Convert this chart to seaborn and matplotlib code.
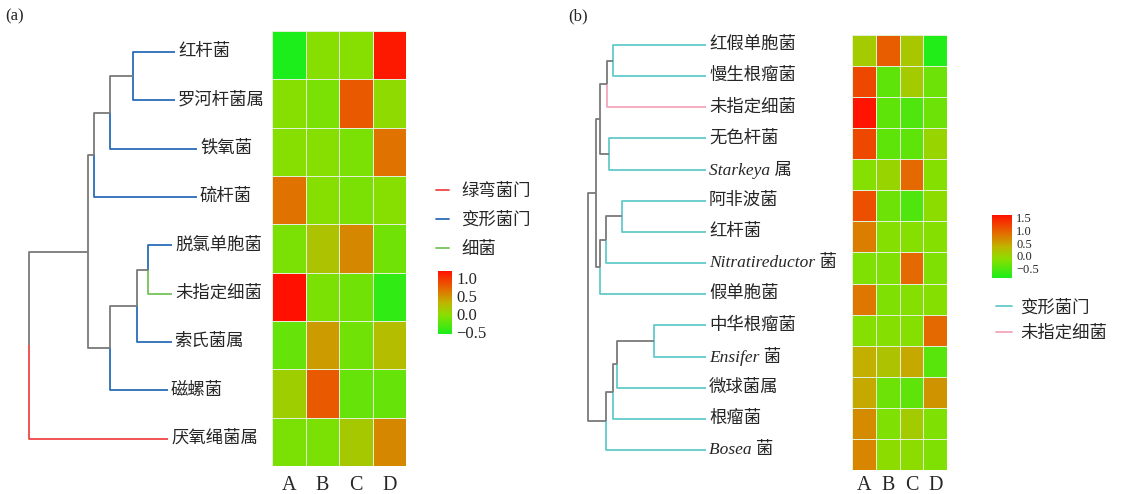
import numpy as np
import pandas as pd
import matplotlib
matplotlib.use("Agg")
import matplotlib.pyplot as plt
from matplotlib.colors import LinearSegmentedColormap
from matplotlib.lines import Line2D
import seaborn as sns

# ---------------- data: panel (a) ----------------
cols = ["A", "B", "C", "D"]
rows_a = ["红杆菌", "罗河杆菌属", "铁氧菌", "硫杆菌", "脱氯单胞菌",
          "未指定细菌", "索氏菌属", "磁螺菌", "厌氧绳菌属"]
vals_a = [[-0.55, -0.05, -0.05, 1.15],
          [-0.05, -0.10, 0.80, 0.00],
          [-0.05, -0.05, -0.10, 0.65],
          [0.65, -0.05, -0.10, -0.05],
          [-0.10, 0.20, 0.55, -0.15],
          [1.20, -0.10, -0.15, -0.45],
          [-0.20, 0.45, -0.15, 0.25],
          [0.10, 0.80, -0.20, -0.20],
          [-0.10, -0.10, 0.15, 0.55]]
group_a = ["变形菌门", "变形菌门", "变形菌门", "变形菌门", "变形菌门",
           "细菌", "变形菌门", "变形菌门", "绿弯菌门"]
tips_a = [22, 22, 0, 0, 25, 25, 25, 29, 29]
# (child, child, height) like a linkage table
merges_a = [(0, 1, 64), (9, 2, 87), (10, 3, 103), (4, 5, 49), (12, 6, 60),
            (13, 7, 87), (11, 14, 109), (15, 8, 168)]
legend_a = ["绿弯菌门", "变形菌门", "细菌"]

# ---------------- data: panel (b) ----------------
rows_b = ["红假单胞菌", "慢生根瘤菌", "未指定细菌", "无色杆菌", "Starkeya 属",
          "阿非波菌", "红杆菌", "Nitratireductor 菌", "假单胞菌", "中华根瘤菌",
          "Ensifer 菌", "微球菌属", "根瘤菌", "Bosea 菌"]
italic_b = [False, False, False, False, True, False, False, True, False,
            False, True, False, False, True]
vals_b = [[0.10, 1.00, 0.15, -0.80],
          [1.15, -0.40, 0.10, -0.30],
          [1.55, -0.40, -0.50, -0.30],
          [1.15, -0.40, -0.40, 0.00],
          [-0.15, 0.00, 0.90, -0.15],
          [1.10, -0.30, -0.50, -0.10],
          [0.75, -0.15, -0.15, -0.15],
          [-0.20, -0.20, 0.90, -0.20],
          [0.80, -0.20, -0.15, -0.15],
          [-0.15, -0.15, -0.15, 0.90],
          [0.40, 0.20, 0.45, -0.45],
          [0.45, -0.30, -0.40, 0.60],
          [0.65, -0.20, 0.10, -0.20],
          [0.70, -0.10, -0.10, -0.20]]
group_b = ["变形菌门"] * 14
group_b[2] = "未指定细菌"
tips_b = [0] * 14
merges_b = [(0, 1, 93), (14, 2, 99), (3, 4, 97), (15, 16, 106), (5, 6, 84),
            (18, 7, 100), (19, 8, 106), (17, 20, 110), (9, 10, 52), (22, 11, 89),
            (23, 12, 93), (24, 13, 100), (21, 25, 118)]
legend_b = ["变形菌门", "未指定细菌"]

colors_a = {"绿弯菌门": "#ef4646", "变形菌门": "#2a6db8", "细菌": "#74c35a"}
colors_b = {"变形菌门": "#62caca", "未指定细菌": "#f2a6ba"}
gray = "#7a7a7a"

cmap = LinearSegmentedColormap.from_list(
    "gr", [(0, "#1aee1a"), (0.3, "#8ade00"), (0.5, "#c0b400"),
           (0.7, "#e27000"), (1.0, "#ff1000")])

sns.set_style("white")
plt.rcParams["font.family"] = ["Liberation Serif", "Noto Sans CJK SC"]

W, H = 1122, 494
fig = plt.figure(figsize=(W / 100, H / 100), dpi=100)


def box(x0, y0, x1, y1):
    return fig.add_axes([x0 / W, 1 - y1 / H, (x1 - x0) / W, (y1 - y0) / H])


def draw_tree(ax, merges, leaf_col, tips):
    n = len(leaf_col)
    ypos = {i: i + 0.5 for i in range(n)}
    xpos = {i: tips[i] for i in range(n)}
    for k, (a, b, h) in enumerate(merges):
        node = n + k
        ypos[node] = (ypos[a] + ypos[b]) / 2
        xpos[node] = h
        for c in (a, b):
            col = leaf_col[c] if c < n else gray
            ax.plot([h, h, xpos[c]], [ypos[node], ypos[c], ypos[c]],
                    color=col, lw=1.3, solid_capstyle="butt")


def heat(hax, cax, vals, rows, vmin, vmax, ticks, tsize, xpad):
    df = pd.DataFrame(vals, index=rows, columns=cols)
    sns.heatmap(df, ax=hax, cmap=cmap, vmin=vmin, vmax=vmax, cbar_ax=cax,
                linewidths=0.6, linecolor="#e2f0d4", yticklabels=False,
                cbar_kws={"ticks": ticks})
    hax.set_xticklabels(cols, rotation=0, fontsize=14.5)
    hax.tick_params(length=0, pad=xpad)
    hax.set_xlabel("")
    hax.set_ylabel("")
    cb = hax.collections[0].colorbar
    cb.outline.set_visible(False)
    cax.tick_params(length=0, labelsize=tsize, pad=3)


# ---------------- panel (a) ----------------
fig.text(5 / W, 1 - 16 / H, "(a)", fontsize=12, va="center")
dax = box(20, 28, 270, 463)
draw_tree(dax, merges_a, [colors_a[g] for g in group_a], tips_a)
for i, lab in enumerate(rows_a):
    dax.text(tips_a[i] - 3, i + 0.5, lab, ha="left", va="center", fontsize=12.5)
dax.set_ylim(len(rows_a), 0)
dax.set_xlim(177, -73)
dax.axis("off")

heat(box(272, 31, 406, 466), box(438, 271, 452, 334), vals_a, rows_a,
     -0.56, 1.2, [-0.5, 0.0, 0.5, 1.0], 12, 7)
fig.legend([Line2D([], [], color=colors_a[g], lw=1.3) for g in legend_a], legend_a,
           loc="upper left", bbox_to_anchor=(436 / W, 1 - 184 / H), frameon=False,
           fontsize=12.5, handlelength=0.75, handletextpad=0.7, labelspacing=0.72,
           borderpad=0, borderaxespad=0)

# ---------------- panel (b) ----------------
fig.text(568 / W, 1 - 16 / H, "(b)", fontsize=12, va="center")
dax = box(580, 29.4, 840, 465.6)
draw_tree(dax, merges_b, [colors_b[g] for g in group_b], tips_b)
for i, lab in enumerate(rows_b):
    dax.text(tips_b[i] - 3, i + 0.5, lab, ha="left", va="center", fontsize=12.5,
             style="italic" if italic_b[i] else "normal")
dax.set_ylim(len(rows_b), 0)
dax.set_xlim(126, -134)
dax.axis("off")

heat(box(852, 35, 947, 470), box(992, 215, 1012, 278), vals_b, rows_b,
     -0.85, 1.58, [-0.5, 0.0, 0.5, 1.0, 1.5], 9, 4.5)
fig.legend([Line2D([], [], color=colors_b[g], lw=1.3) for g in legend_b], legend_b,
           loc="upper left", bbox_to_anchor=(996 / W, 1 - 300 / H), frameon=False,
           fontsize=12.5, handlelength=0.92, handletextpad=0.46, labelspacing=0.52,
           borderpad=0, borderaxespad=0)

fig.savefig("out.png", dpi=100)
